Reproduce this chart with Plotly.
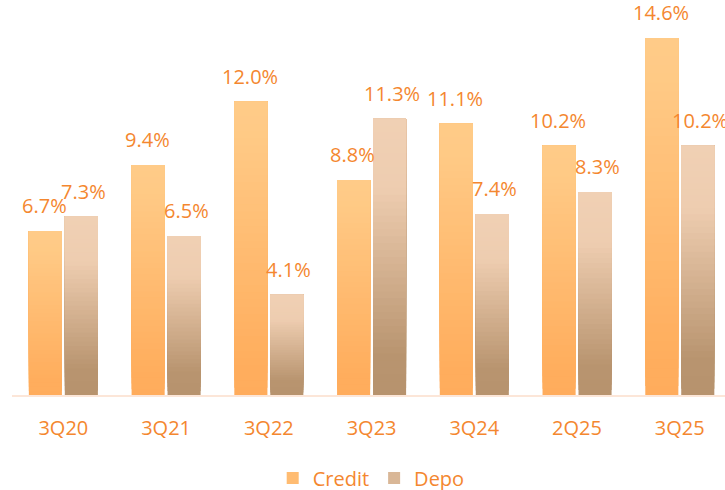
import plotly.graph_objects as go
import numpy as np

quarters = ["3Q20", "3Q21", "3Q22", "3Q23", "3Q24", "2Q25", "3Q25"]
credit = [6.7, 9.4, 12.0, 8.8, 11.1, 10.2, 14.6]
depo = [7.3, 6.5, 4.1, 11.3, 7.4, 8.3, 10.2]

TEXT = "#F4872F"
FONT = "Open Sans"
N_SEG = 40

# gradient stops: (fraction from bar bottom, rgb)
credit_stops = [(0.0, (255, 172, 92)), (0.12, (255, 174, 94)), (0.9, (255, 202, 134)), (1.0, (255, 203, 136))]
depo_stops = [(0.0, (183, 147, 110)), (0.14, (184, 148, 111)), (0.75, (238, 205, 176)), (1.0, (240, 208, 180))]


def grad_color(stops, f):
    for (f0, c0), (f1, c1) in zip(stops[:-1], stops[1:]):
        if f0 <= f <= f1:
            t = (f - f0) / (f1 - f0) if f1 > f0 else 0
            c = [round(a + (b - a) * t) for a, b in zip(c0, c1)]
            return "rgb(%d,%d,%d)" % tuple(c)
    return "rgb(%d,%d,%d)" % stops[-1][1]


def gradient_bars(fig, values, stops, name, group):
    # each slice runs from its base to the bar top; later slices cover the
    # upper part, so no seams show between them
    vals = np.array(values)
    for i in range(N_SEG):
        f = (i + 0.5) / N_SEG
        fig.add_trace(go.Bar(
            x=quarters,
            y=vals * (N_SEG - i) / N_SEG,
            base=vals * i / N_SEG,
            offsetgroup=group,
            marker=dict(color=grad_color(stops, f), line=dict(width=0)),
            name=name,
            legendgroup=group,
            showlegend=(i == N_SEG // 2),
            hoverinfo="skip",
        ))


fig = go.Figure()
gradient_bars(fig, credit, credit_stops, "Credit", "credit")
gradient_bars(fig, depo, depo_stops, "Depo", "depo")

# value labels above the bars
for q, c, d in zip(quarters, credit, depo):
    for v, dx in ((c, -19), (d, 20)):
        fig.add_annotation(
            x=q, y=v, text="%.1f%%" % v, showarrow=False,
            xshift=dx, yshift=10, yanchor="bottom",
            font=dict(family=FONT, size=20, color=TEXT),
        )

fig.update_layout(
    width=725,
    height=490,
    margin=dict(l=12, r=0, t=10, b=95),
    paper_bgcolor="white",
    plot_bgcolor="white",
    barmode="group",
    bargap=0.3,
    bargroupgap=0.08,
    font=dict(family=FONT, size=20, color=TEXT),
    showlegend=True,
    legend=dict(
        orientation="h", xref="container", yref="container",
        x=0.512, xanchor="center", y=0.0245, yanchor="middle",
        font=dict(family=FONT, size=20, color=TEXT),
        itemwidth=30, traceorder="normal",
    ),
    xaxis=dict(
        range=[-0.5, 6.44],
        showgrid=False,
        showline=True,
        linecolor="#FCE6D8",
        linewidth=2,
        ticks="",
        ticklabelstandoff=14,
        tickfont=dict(family=FONT, size=20, color=TEXT),
    ),
    yaxis=dict(
        range=[0, 15.75],
        visible=False,
        showgrid=False,
        zeroline=False,
    ),
)

# drop the browser's default 8px body margin so the chart fills the window
fig.write_html(
    "out.html",
    config={"displayModeBar": False},
    post_script="document.body.style.margin = '0px';",
)
